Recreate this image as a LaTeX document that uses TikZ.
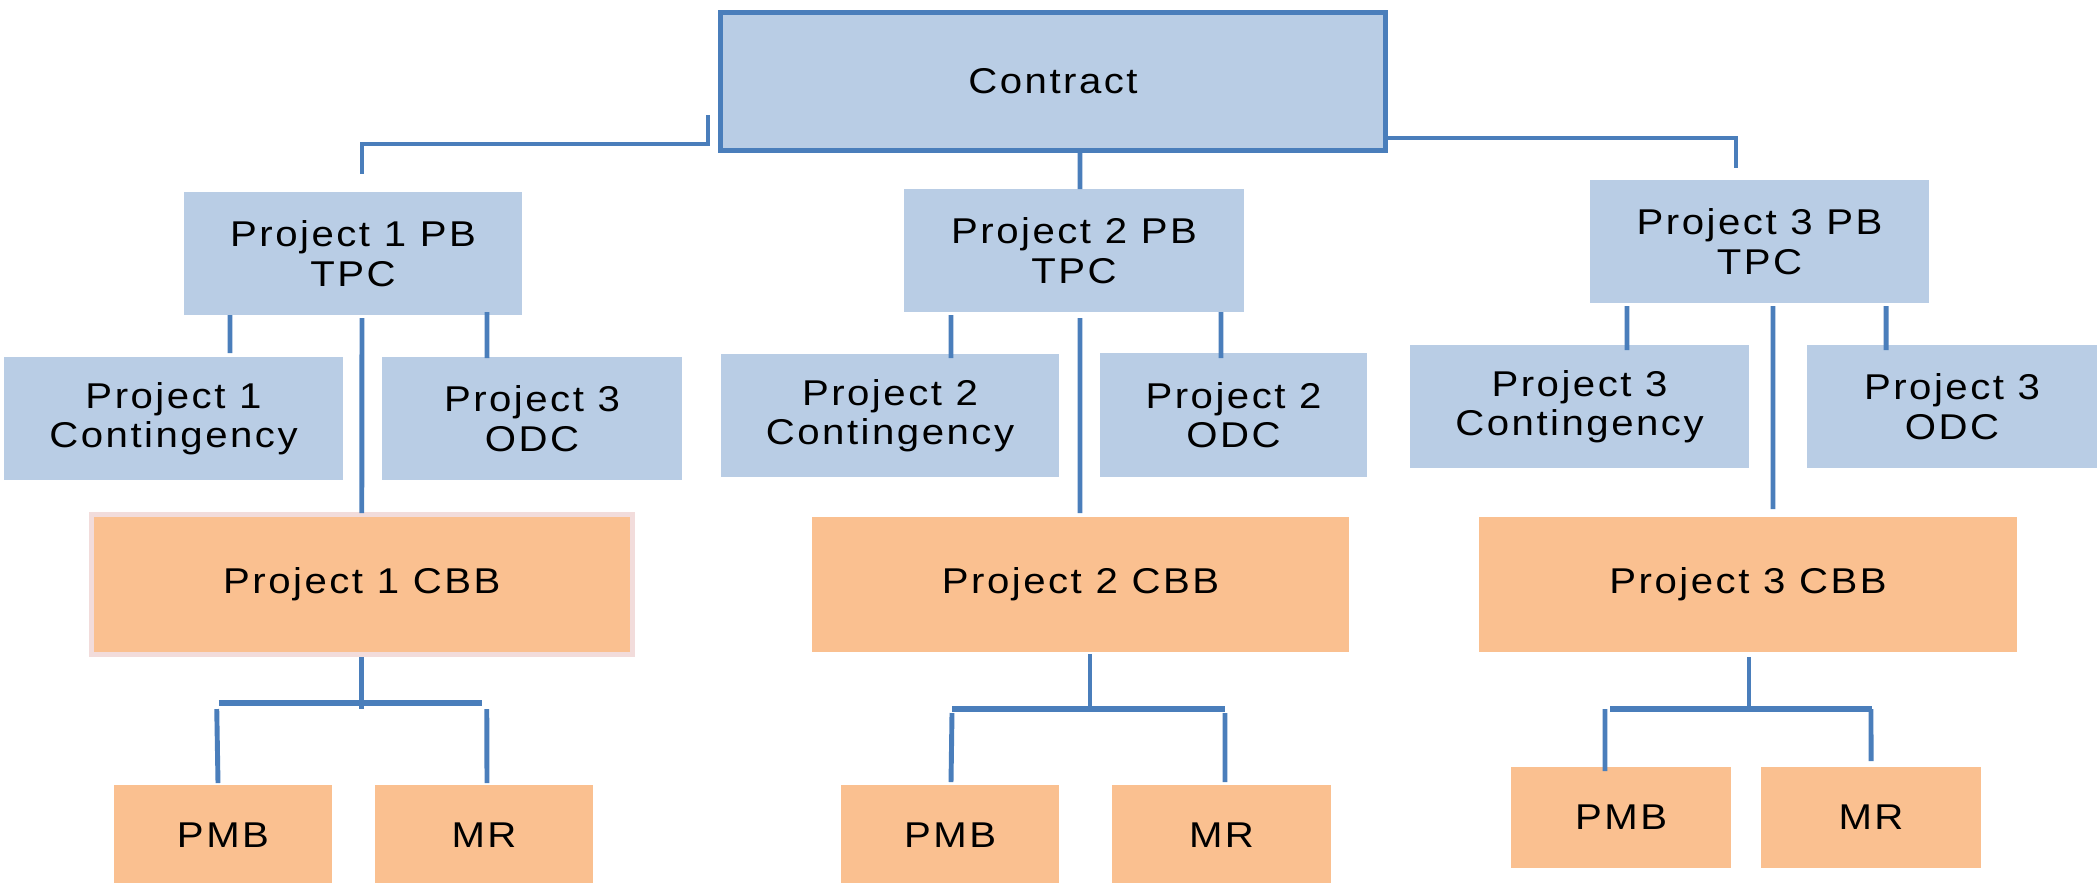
\documentclass[tikz,border=0pt]{standalone}
\usepackage{fontspec}
\setmainfont{Liberation Sans}[FakeStretch=1.12, LetterSpace=7]
\definecolor{boxblue}{RGB}{185,205,229}
\definecolor{boxorange}{RGB}{250,192,144}
\definecolor{lineblue}{RGB}{74,126,187}
\definecolor{cbbrim}{RGB}{242,220,219}

\begin{document}
\begin{tikzpicture}[font=\fontsize{10.2}{11.2}\selectfont,
  bluebox/.style={fill=boxblue, inner sep=0pt, outer sep=0pt, align=center, minimum height=1.23cm},
  orangebox/.style={fill=boxorange, inner sep=0pt, outer sep=0pt, align=center},
  link/.style={draw=lineblue, line width=1.4pt},
  bus/.style={draw=lineblue, line width=1.8pt}]
\useasboundingbox (0,0) rectangle (20.97,-8.82);

\node (contract) at (10.53,-0.815) [bluebox, draw=lineblue, line width=1.4pt, minimum width=6.65cm, minimum height=1.38cm] {Contract};

\node (pb1) at (3.53,-2.535) [bluebox, minimum width=3.38cm] {Project 1 PB\\TPC};
\node (pb2) at (10.74,-2.505) [bluebox, minimum width=3.40cm] {Project 2 PB\\TPC};
\node (pb3) at (17.595,-2.415) [bluebox, minimum width=3.39cm] {Project 3 PB\\TPC};

\node (cont1) at (1.735,-4.185) [bluebox, minimum width=3.39cm] {Project 1\\Contingency};
\node (odc1) at (5.32,-4.185) [bluebox, minimum width=3.00cm] {Project 3\\ODC};
\node (cont2) at (8.90,-4.155) [bluebox, minimum width=3.38cm] {Project 2\\Contingency};
\node (odc2) at (12.335,-4.15) [bluebox, minimum width=2.67cm, minimum height=1.24cm] {Project 2\\ODC};
\node (cont3) at (15.795,-4.065) [bluebox, minimum width=3.39cm] {Project 3\\Contingency};
\node (odc3) at (19.52,-4.065) [bluebox, minimum width=2.90cm] {Project 3\\ODC};

\node (cbb1) at (3.6175,-5.8425) [orangebox, draw=cbbrim, line width=0.05cm, minimum width=5.415cm, minimum height=1.395cm] {Project 1 CBB};
\node (cbb2) at (10.805,-5.845) [orangebox, minimum width=5.37cm, minimum height=1.35cm] {Project 2 CBB};
\node (cbb3) at (17.48,-5.845) [orangebox, minimum width=5.38cm, minimum height=1.35cm] {Project 3 CBB};

\node (pmb1) at (2.23,-8.355) [orangebox, minimum width=2.18cm, minimum height=1.01cm] {PMB};
\node (mr1) at (4.84,-8.355) [orangebox, minimum width=2.18cm, minimum height=1.01cm] {MR};
\node (pmb2) at (9.50,-8.355) [orangebox, minimum width=2.18cm, minimum height=1.01cm] {PMB};
\node (mr2) at (12.215,-8.355) [orangebox, minimum width=2.19cm, minimum height=1.01cm] {MR};
\node (pmb3) at (16.21,-8.175) [orangebox, minimum width=2.20cm, minimum height=1.01cm] {PMB};
\node (mr3) at (18.71,-8.175) [orangebox, minimum width=2.20cm, minimum height=1.01cm] {MR};

\draw [link] ([xshift=-1.25mm,yshift=-3.35mm]contract.west) -- ++(0,-0.29) -| ([xshift=0.9mm,yshift=1.8mm]pb1.north);
\draw [link] ([xshift=2.7mm]contract.south) -- ([xshift=0.6mm]pb2.north);
\draw [link] ([xshift=0.25mm,yshift=-5.65mm]contract.east) -| ([xshift=-2.35mm,yshift=1.2mm]pb3.north);

\draw [link] ([xshift=-12.3mm]pb1.south) -- ([xshift=5.65mm,yshift=0.4mm]cont1.north);
\draw [link] ([xshift=0.9mm,yshift=-0.3mm]pb1.south) -- ([yshift=0.15mm]cbb1.north);
\draw [link] ([xshift=13.4mm,yshift=0.3mm]pb1.south) -- ([xshift=-4.5mm,yshift=-0.1mm]odc1.north);

\draw [link] ([xshift=-12.3mm,yshift=-0.3mm]pb2.south) -- ([xshift=6.1mm,yshift=-0.4mm]cont2.north);
\draw [link] ([xshift=0.6mm,yshift=-0.6mm]pb2.south) -- ([xshift=-0.05mm,yshift=0.4mm]cbb2.north);
\draw [link] ([xshift=14.7mm]pb2.south) -- ([xshift=-1.25mm,yshift=-0.5mm]odc2.north);

\draw [link] ([xshift=-13.25mm,yshift=-0.3mm]pb3.south) -- ([xshift=4.75mm,yshift=-0.5mm]cont3.north);
\draw [link] ([xshift=1.35mm,yshift=-0.3mm]pb3.south) -- ([xshift=2.5mm,yshift=0.8mm]cbb3.north);
\draw [link] ([xshift=12.65mm,yshift=-0.3mm]pb3.south) -- ([xshift=-6.6mm,yshift=-0.5mm]odc3.north);

\draw [link] ([yshift=-0.3mm]cbb1.south) -- ([yshift=-5.5mm]cbb1.south);
\draw [bus] ([xshift=-14.3mm,yshift=-4.9mm]cbb1.south) -- ([xshift=12mm,yshift=-4.9mm]cbb1.south);
\draw [link] ([xshift=-14.5mm,yshift=-5.5mm]cbb1.south) -- ([xshift=-0.5mm,yshift=0.2mm]pmb1.north);
\draw [link] ([xshift=12.5mm,yshift=-5.5mm]cbb1.south) -- ([xshift=0.3mm,yshift=0.2mm]mr1.north);

\draw [link] ([xshift=0.95mm,yshift=-0.2mm]cbb2.south) -- ([xshift=0.95mm,yshift=-5.7mm]cbb2.south);
\draw [bus] ([xshift=-12.85mm,yshift=-5.7mm]cbb2.south) -- ([xshift=14.45mm,yshift=-5.7mm]cbb2.south);
\draw [link] ([xshift=-12.85mm,yshift=-6.1mm]cbb2.south) -- ([xshift=0.1mm,yshift=0.3mm]pmb2.north);
\draw [link] ([xshift=14.45mm,yshift=-6.1mm]cbb2.south) -- ([xshift=0.35mm,yshift=0.3mm]mr2.north);

\draw [link] ([xshift=0.1mm,yshift=-0.5mm]cbb3.south) -- ([xshift=0.1mm,yshift=-5.7mm]cbb3.south);
\draw [bus] ([xshift=-13.8mm,yshift=-5.7mm]cbb3.south) -- ([xshift=12.4mm,yshift=-5.7mm]cbb3.south);
\draw [link] ([xshift=-14.3mm,yshift=-5.7mm]cbb3.south) -- ([xshift=-1.6mm,yshift=-0.4mm]pmb3.north);
\draw [link] ([xshift=12.3mm,yshift=-5.7mm]cbb3.south) -- ([yshift=0.6mm]mr3.north);
\end{tikzpicture}
\end{document}
